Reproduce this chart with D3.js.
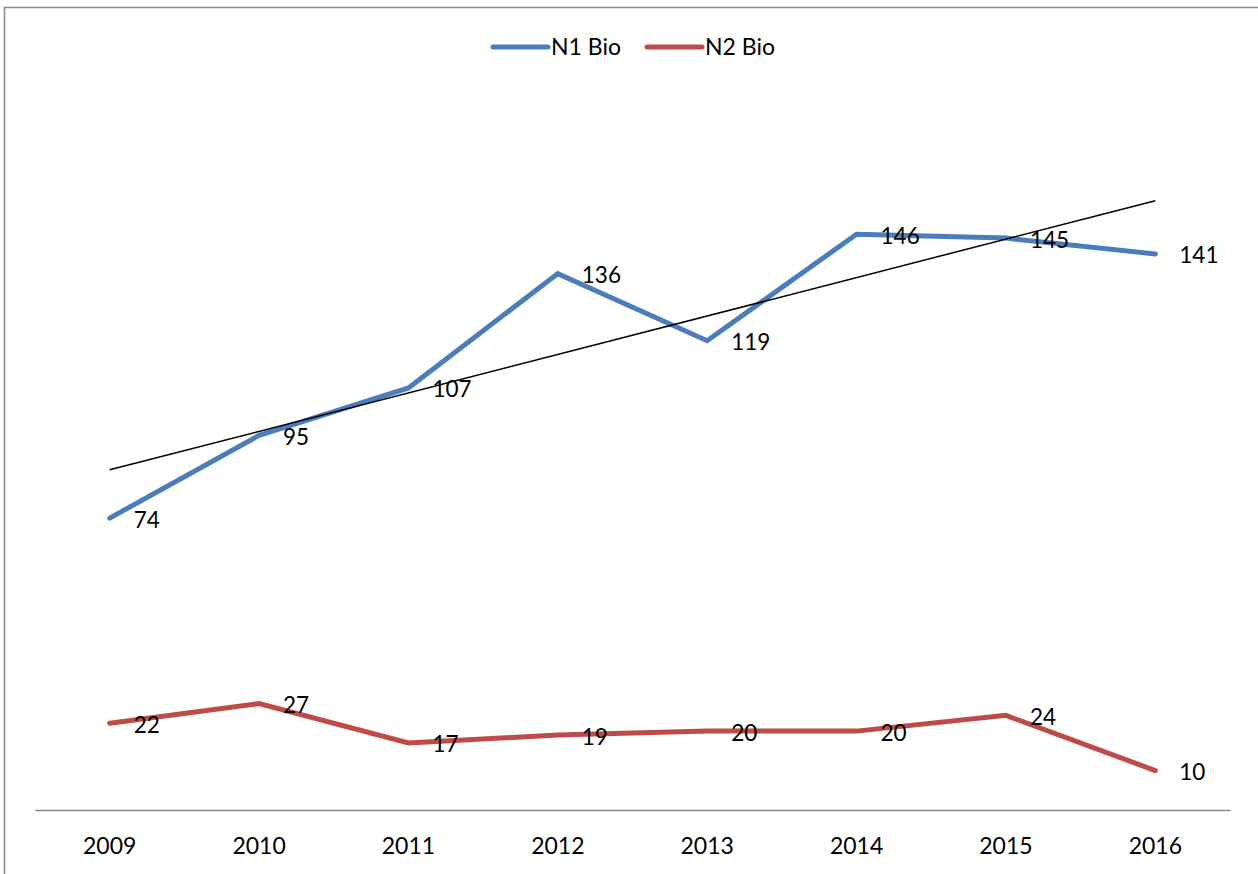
<!DOCTYPE html>
<html>
<head>
<meta charset="utf-8">
<script src="https://cdn.jsdelivr.net/npm/d3@7"></script>
<style>
  body { margin: 0; background: #fff; }
  svg { display: block; }
  text { font-family: Lato, "Open Sans", sans-serif; fill: #000; }
</style>
</head>
<body>
<div id="container"></div>
<script>
/* DATA */
const years = ["2009", "2010", "2011", "2012", "2013", "2014", "2015", "2016"];
const n1Bio = [74, 95, 107, 136, 119, 146, 145, 141];
const n2Bio = [22, 27, 17, 19, 20, 20, 24, 10];
const seriesNames = ["N1 Bio", "N2 Bio"];
const seriesColors = ["#4A7EBB", "#BE4B48"];

/* CONSTANTS */
const width = 1258,
  height = 874,
  margin = {top: 100, bottom: 64, left: 35, right: 28};

const svg = d3.select("#container")
  .append("svg")
  .attr("width", width)
  .attr("height", height);

// chart border (only top and left visible in the picture)
svg.append("rect")
  .attr("x", 4.5).attr("y", 7.5)
  .attr("width", 1400).attr("height", 1000)
  .attr("fill", "none")
  .attr("stroke", "#888")
  .attr("stroke-width", 1.5);

/* SCALES */
const xScale = d3.scaleBand()
  .domain(years)
  .range([margin.left, width - margin.right]);

const xPos = d => xScale(d) + xScale.bandwidth() / 2;

const yScale = d3.scaleLinear()
  .domain([0, 180])
  .range([height - margin.bottom, height - margin.bottom - 180 * 3.944]);

/* AXIS */
const xAxis = d3.axisBottom(xScale).tickSize(0).tickPadding(28);
const xAxisGroup = svg.append("g")
  .attr("transform", `translate(0,${yScale(0)})`)
  .call(xAxis);
xAxisGroup.select(".domain").attr("stroke", "#888").attr("stroke-width", 1.5);
xAxisGroup.selectAll("text")
  .attr("font-size", 23)
  .attr("font-family", "Lato, sans-serif");

/* LINES */
const series = [
  {name: seriesNames[0], values: n1Bio, color: seriesColors[0]},
  {name: seriesNames[1], values: n2Bio, color: seriesColors[1]}
];

const line = d3.line()
  .x((d, i) => xPos(years[i]))
  .y(d => yScale(d));

svg.selectAll("path.series")
  .data(series)
  .join("path")
  .attr("class", "series")
  .attr("d", d => line(d.values))
  .attr("fill", "none")
  .attr("stroke", d => d.color)
  .attr("stroke-width", 5)
  .attr("stroke-linecap", "round")
  .attr("stroke-linejoin", "miter");

// linear trendline for N1 Bio
const idx = years.map((d, i) => i + 1);
const mx = d3.mean(idx), my = d3.mean(n1Bio);
const slope = d3.sum(idx, (x, i) => (x - mx) * (n1Bio[i] - my)) / d3.sum(idx, x => (x - mx) ** 2);
const intercept = my - slope * mx;
const trend = [1, years.length].map(x => intercept + slope * x);

svg.append("line")
  .attr("x1", xPos(years[0]))
  .attr("y1", yScale(trend[0]))
  .attr("x2", xPos(years[years.length - 1]))
  .attr("y2", yScale(trend[1]))
  .attr("stroke", "#000")
  .attr("stroke-width", 1.5);

/* DATA LABELS */
series.forEach(s => {
  svg.selectAll(null)
    .data(s.values)
    .join("text")
    .attr("x", (d, i) => xPos(years[i]) + 24)
    .attr("y", d => yScale(d) + 1)
    .attr("dominant-baseline", "central")
    .attr("font-size", 22.5)
    .text(d => d);
});

/* LEGEND */
const legendX = [493, 647];
const legend = svg.selectAll("g.legend")
  .data(series)
  .join("g")
  .attr("class", "legend")
  .attr("transform", (d, i) => `translate(${legendX[i]},47)`);

legend.append("line")
  .attr("x1", 0).attr("x2", 55)
  .attr("stroke", d => d.color)
  .attr("stroke-width", 5)
  .attr("stroke-linecap", "round");

legend.append("text")
  .attr("x", 58)
  .attr("y", -1)
  .attr("dominant-baseline", "central")
  .attr("font-size", 23)
  .text(d => d.name);
</script>
</body>
</html>
